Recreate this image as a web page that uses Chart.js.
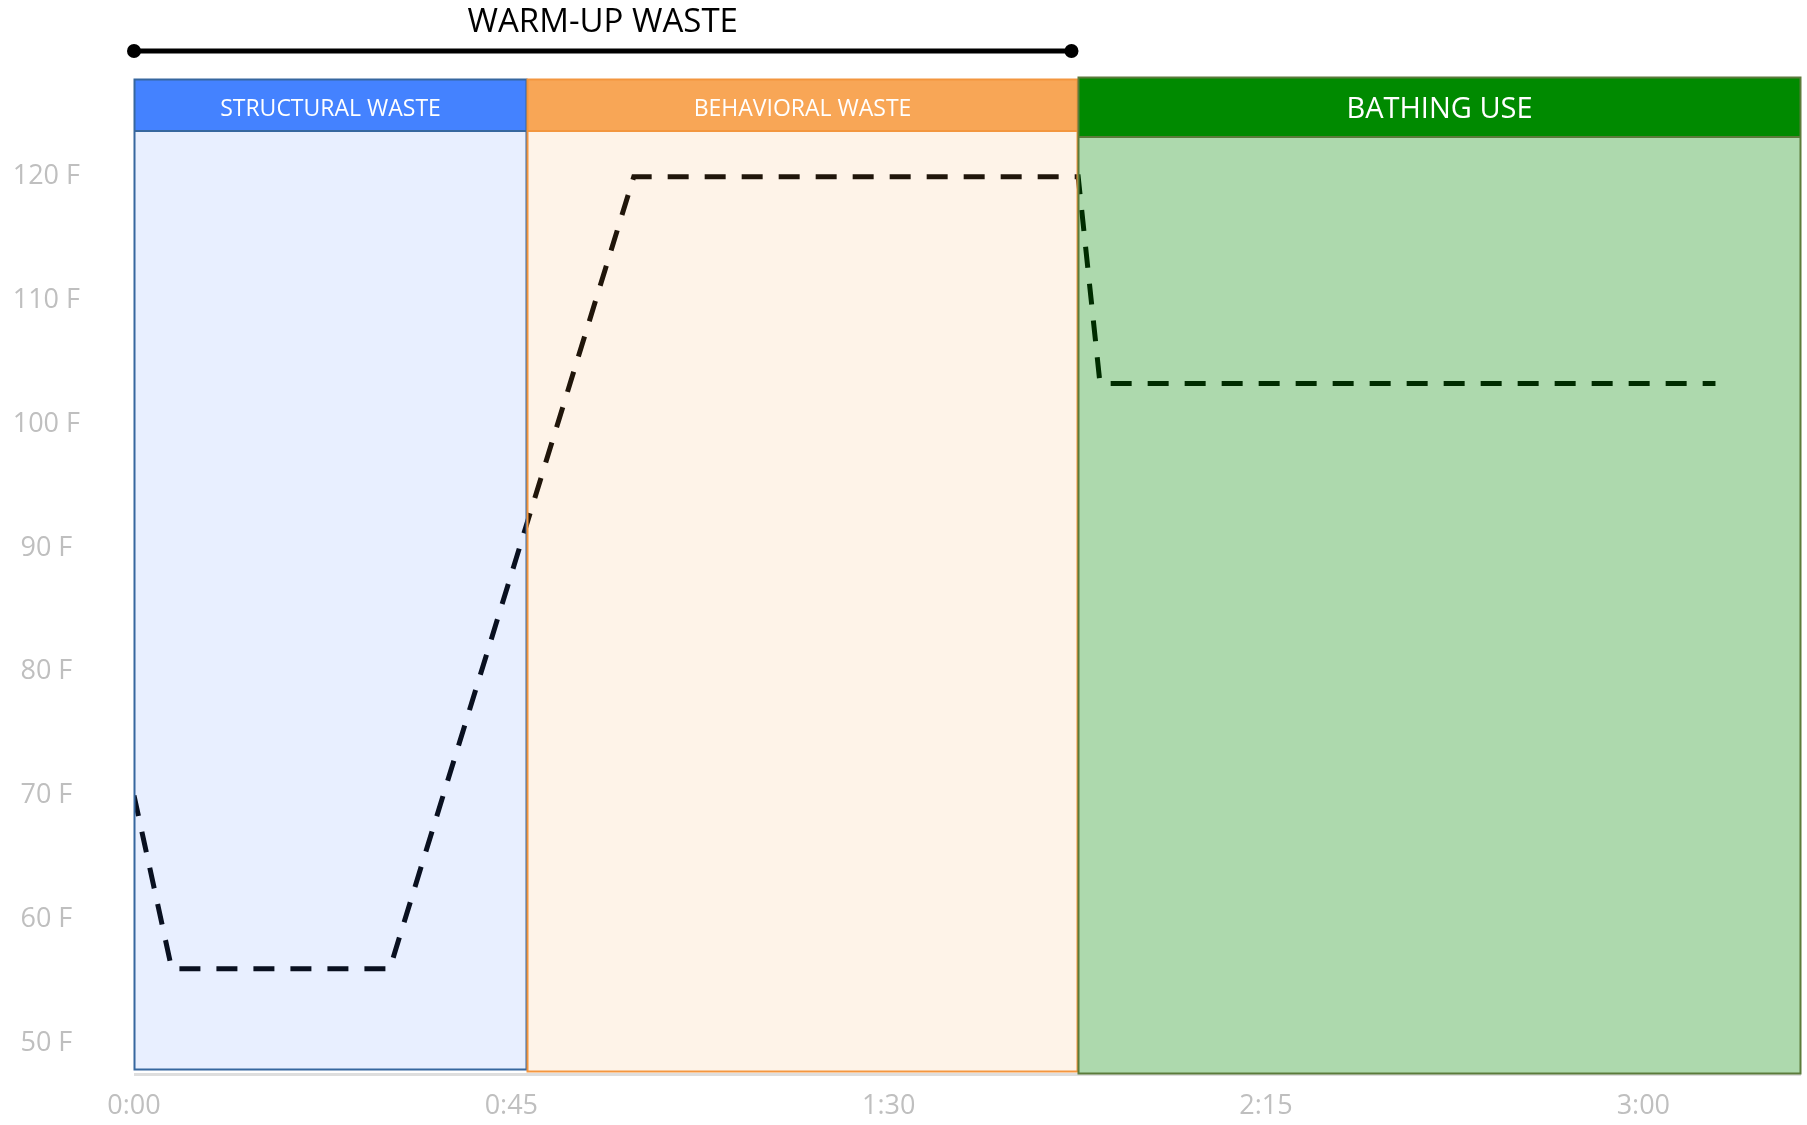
<!DOCTYPE html>
<html>
<head>
<meta charset="utf-8">
<script src="https://cdn.jsdelivr.net/npm/chart.js@4.4.1/dist/chart.umd.min.js"></script>
<style>
  html, body { margin: 0; padding: 0; background: #ffffff; }
  #wrap { width: 1807px; height: 1125px; position: relative; }
</style>
</head>
<body>
<div id="wrap"><canvas id="chart" width="1807" height="1125"></canvas></div>
<script>
// Tap water temperature over a shower session (time in minutes since the tap opens)
const timeMinutes = [0, 4.5, 30.5, 59.6, 112.6, 115.2, 188.6];
const temperatureF = [70, 56, 56, 120, 120, 103.3, 103.3];

// Phases of the session, as time spans on the same axis
const phaseNames = ['STRUCTURAL WASTE', 'BEHAVIORAL WASTE', 'BATHING USE'];
const phaseStart = [0, 46.9, 112.6];
const phaseEnd = [46.9, 112.6, 198.8];

// Bracket over the two waste phases
const warmupLabel = 'WARM-UP WASTE';
const warmupSpan = [0, 111.8];

// Axis ticks
const xTickValues = [0, 45, 90, 135, 180];
const xTickLabels = ['0:00', '0:45', '1:30', '2:15', '3:00'];
const yTickValues = [50, 60, 70, 80, 90, 100, 110, 120];
const yTickLabels = ['50 F', '60 F', '70 F', '80 F', '90 F', '100 F', '110 F', '120 F'];
const yRange = [47.66, 127.9];
const xRange = [0, 198.8];

// Look of each phase panel
const phaseStyles = [
  { fill: 'rgba(68,130,255,0.125)', head: '#4482FF', border: '#36679F',
    headTop: 0, headBottom: 52, bodyBottom: -2, font: '23px "Open Sans"', baseline: 37 },
  { fill: 'rgba(248,160,80,0.13)', head: '#F8A656', border: '#F3963F',
    headTop: 0, headBottom: 52, bodyBottom: 0, font: '23px "Open Sans"', baseline: 37 },
  { fill: 'rgba(0,138,0,0.32)', head: '#008A00', border: '#5B7B3B',
    headTop: -2, headBottom: 58, bodyBottom: 2, font: '29px "Open Sans"', baseline: 41 }
];

const phasePanels = {
  id: 'phasePanels',
  afterDatasetsDraw(chart) {
    const { ctx, chartArea, scales } = chart;
    const xs = scales.x;
    ctx.save();
    // soft shadow under the panel row
    ctx.fillStyle = 'rgba(0,0,0,0.13)';
    ctx.fillRect(xs.getPixelForValue(phaseStart[0]), chartArea.bottom + 1,
      xs.getPixelForValue(phaseEnd[phaseEnd.length - 1]) - xs.getPixelForValue(phaseStart[0]), 3);

    phaseNames.forEach((name, i) => {
      const st = phaseStyles[i];
      const x0 = Math.round(xs.getPixelForValue(phaseStart[i]));
      const x1 = Math.round(xs.getPixelForValue(phaseEnd[i]));
      const top = chartArea.top + st.headTop;
      const headBottom = chartArea.top + st.headBottom;
      const bottom = chartArea.bottom + st.bodyBottom;

      // translucent body lets the temperature trace show through, tinted
      ctx.fillStyle = st.fill;
      ctx.fillRect(x0, headBottom, x1 - x0, bottom - headBottom);

      // solid header band
      ctx.fillStyle = st.head;
      ctx.fillRect(x0, top, x1 - x0, headBottom - top);

      ctx.lineWidth = 2;
      ctx.strokeStyle = st.border;
      ctx.strokeRect(x0 + 0.5, top + 0.5, x1 - x0 - 1, bottom - top - 1);
      ctx.beginPath();
      ctx.moveTo(x0, headBottom);
      ctx.lineTo(x1, headBottom);
      ctx.stroke();

      ctx.fillStyle = '#ffffff';
      ctx.font = st.font;
      ctx.textAlign = 'center';
      ctx.textBaseline = 'alphabetic';
      ctx.fillText(name, (x0 + x1) / 2, top + st.baseline);
    });

    // warm-up bracket and its caption
    const bx0 = xs.getPixelForValue(warmupSpan[0]);
    const bx1 = xs.getPixelForValue(warmupSpan[1]);
    const by = 51;
    ctx.strokeStyle = '#000000';
    ctx.lineWidth = 5;
    ctx.beginPath();
    ctx.moveTo(bx0, by);
    ctx.lineTo(bx1, by);
    ctx.stroke();
    ctx.fillStyle = '#000000';
    [bx0, bx1].forEach(x => {
      ctx.beginPath();
      ctx.arc(x, by, 7, 0, Math.PI * 2);
      ctx.fill();
    });
    ctx.font = '33px "Open Sans"';
    ctx.textAlign = 'center';
    ctx.textBaseline = 'alphabetic';
    ctx.fillText(warmupLabel, (bx0 + bx1) / 2, 32);
    ctx.restore();
  }
};

const points = timeMinutes.map((t, i) => ({ x: t, y: temperatureF[i] }));

new Chart(document.getElementById('chart'), {
  type: 'line',
  data: {
    datasets: [{
      data: points,
      borderColor: '#000000',
      borderWidth: 5,
      borderDash: [21, 16],
      borderCapStyle: 'butt',
      borderJoinStyle: 'miter',
      pointRadius: 0,
      tension: 0,
      fill: false
    }]
  },
  options: {
    responsive: false,
    animation: false,
    layout: { padding: { top: 79, right: 6, left: 0, bottom: 0 } },
    plugins: { legend: { display: false }, tooltip: { enabled: false } },
    scales: {
      x: {
        type: 'linear',
        min: xRange[0],
        max: xRange[1],
        afterFit(scale) {
          scale.height = 53;
          scale.paddingLeft = 0;
          scale.paddingRight = 0;
        },
        afterBuildTicks(scale) { scale.ticks = xTickValues.map(v => ({ value: v })); },
        grid: { display: false, drawTicks: false },
        border: { display: false },
        ticks: {
          autoSkip: false,
          maxRotation: 0,
          padding: 18,
          color: '#BFBFBF',
          font: { family: '"Open Sans"', size: 27 },
          callback(value) { return xTickLabels[xTickValues.indexOf(value)]; }
        }
      },
      y: {
        type: 'linear',
        min: yRange[0],
        max: yRange[1],
        afterFit(scale) {
          scale.width = 134;
          scale.paddingTop = 0;
          scale.paddingBottom = 0;
        },
        afterBuildTicks(scale) { scale.ticks = yTickValues.map(v => ({ value: v })); },
        grid: { display: false, drawTicks: false },
        border: { display: false },
        ticks: {
          autoSkip: false,
          crossAlign: 'center',
          padding: 54,
          color: '#BFBFBF',
          font: { family: '"Open Sans"', size: 27 },
          callback(value) { return yTickLabels[yTickValues.indexOf(value)]; }
        }
      }
    }
  },
  plugins: [phasePanels]
});
</script>
</body>
</html>
